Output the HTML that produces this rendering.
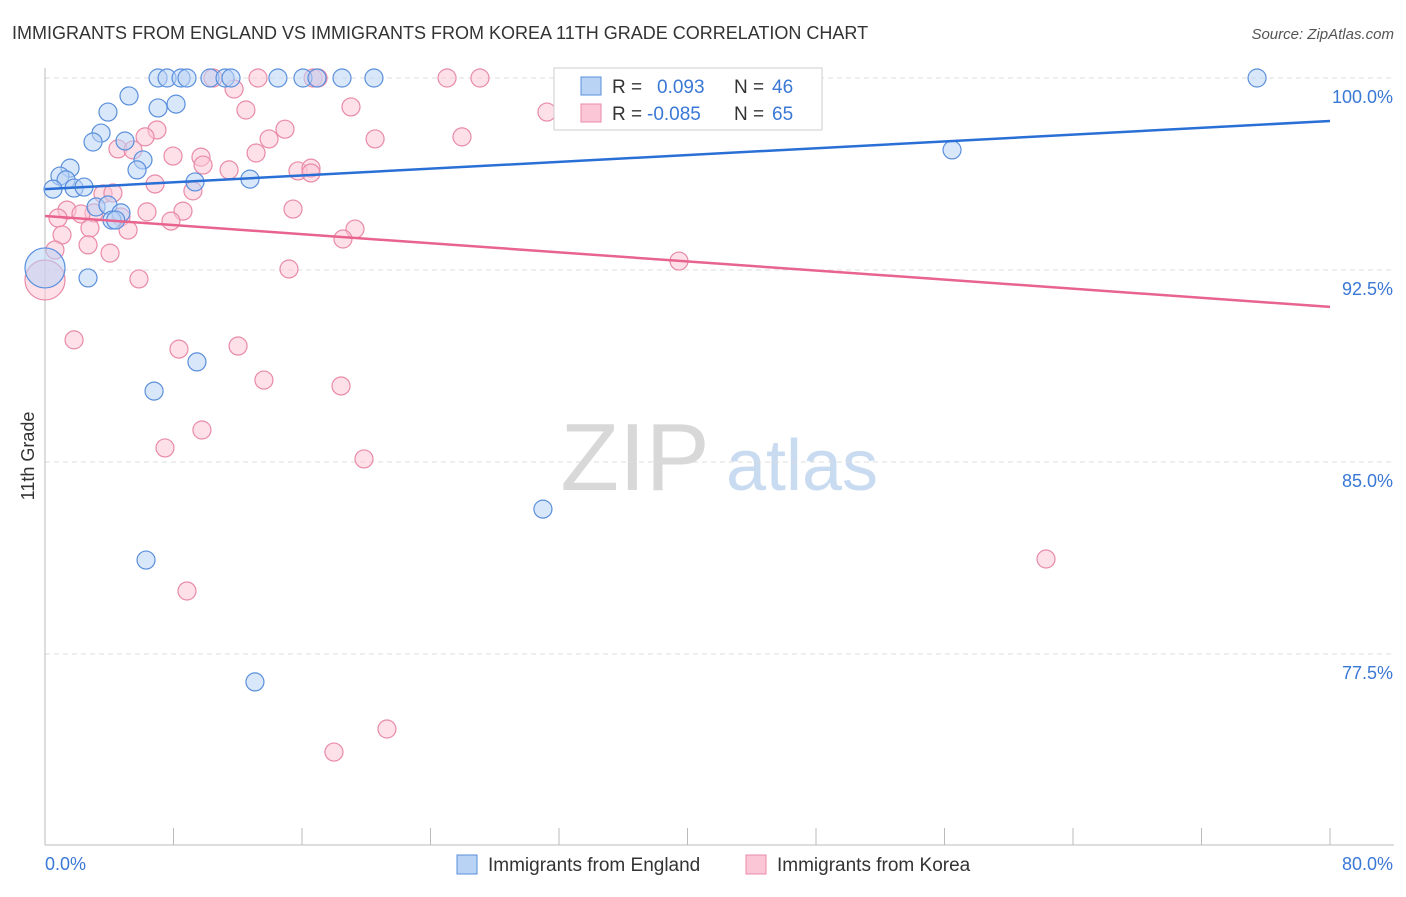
<!DOCTYPE html>
<html><head><meta charset="utf-8"><style>
body{margin:0;background:#fff;font-family:"Liberation Sans",sans-serif;}
svg text{font-family:"Liberation Sans",sans-serif;}
</style></head><body>
<svg id="chart" width="1406" height="892" viewBox="0 0 1406 892" xmlns="http://www.w3.org/2000/svg">
<text x="12" y="39" font-size="18" fill="#333">IMMIGRANTS FROM ENGLAND VS IMMIGRANTS FROM KOREA 11TH GRADE CORRELATION CHART</text>
<text x="1394" y="39" font-size="15" fill="#555" text-anchor="end" font-style="italic">Source: ZipAtlas.com</text>
<g>
<text x="635" y="490" font-size="96" fill="#d8d8d8" font-family="Liberation Serif" text-anchor="middle">ZIP</text>
<text x="802" y="490" font-size="72" fill="#c9dbf0" text-anchor="middle">atlas</text>
</g>
<g id="grid"></g>
<g id="axes"></g>
<g id="pts"></g>
<g id="trends"></g>
<text transform="translate(34,456) rotate(-90)" font-size="18" fill="#333" text-anchor="middle">11th Grade</text>
<g>
<rect x="554" y="68" width="268" height="62" fill="#fff" stroke="#ccc"/>
<rect x="581" y="77" width="20" height="18" fill="#b9d3f5" stroke="#5a8fdc"/>
<rect x="581" y="104" width="20" height="18" fill="#fbc6d5" stroke="#e98aa8"/>
<text x="612" y="93" font-size="19" fill="#333">R = </text><text x="657" y="93" font-size="19" fill="#3a78d6">0.093</text>
<text x="734" y="93" font-size="19" fill="#333">N = </text><text x="772" y="93" font-size="19" fill="#3a78d6">46</text>
<text x="612" y="120" font-size="19" fill="#333">R = </text><text x="647" y="120" font-size="19" fill="#3a78d6">-0.085</text>
<text x="734" y="120" font-size="19" fill="#333">N = </text><text x="772" y="120" font-size="19" fill="#3a78d6">65</text>
</g>
<g>
<rect x="457" y="855" width="20" height="19" fill="#b9d3f5" stroke="#5a8fdc"/>
<text x="488" y="871" font-size="19" fill="#333">Immigrants from England</text>
<rect x="746" y="855" width="20" height="19" fill="#fbc6d5" stroke="#e98aa8"/>
<text x="777" y="871" font-size="19" fill="#333">Immigrants from Korea</text>
</g>
</svg>
<script>
const blueX=[7.04,7.6,8.47,8.84,10.27,11.21,11.58,14.5,16.06,16.93,18.49,20.48,75.46,33.0,5.23,3.92,7.04,8.16,3.49,2.99,4.98,6.1,5.73,1.56,0.93,1.31,0.5,1.81,2.43,3.18,3.92,4.73,4.17,4.4,9.34,12.76,2.68,9.46,6.79,31.0,6.29,13.07,56.47,0];
const blueY=[100,100,100,100,100,100,100,100,100,100,100,100,100,100,99.3,98.67,98.83,98.98,97.85,97.5,97.54,96.8,96.41,96.48,96.17,96.02,95.66,95.7,95.74,94.96,95.04,94.73,94.45,94.45,95.94,96.05,92.19,88.91,87.77,83.16,81.17,76.41,97.19,92.58];
const pinkX=[10.46,13.26,16.69,17.0,25.03,27.08,11.77,12.51,19.05,31.25,25.96,20.55,6.97,6.23,4.54,5.48,14.94,13.95,13.14,7.97,9.71,9.84,11.46,15.75,16.56,16.56,6.85,3.61,4.23,9.21,3.05,1.37,2.24,4.73,6.35,8.59,15.44,0.81,2.8,5.17,7.84,19.3,18.55,1.06,2.68,0.62,4.05,5.85,15.19,39.47,1.81,8.34,12.02,9.77,13.63,18.43,7.47,19.86,62.32,8.84,21.29,17.99,0];
const pinkY=[100,100,100,100,100,100,99.57,98.75,98.87,98.67,97.7,97.62,97.97,97.7,97.23,97.19,98.0,97.62,97.07,96.95,96.91,96.6,96.41,96.37,96.48,96.29,95.86,95.47,95.51,95.59,94.73,94.84,94.69,94.57,94.77,94.8,94.88,94.53,94.14,94.06,94.41,94.1,93.71,93.87,93.48,93.28,93.16,92.15,92.54,92.85,89.77,89.41,89.53,86.25,88.2,87.97,85.55,85.12,81.21,79.96,74.57,73.67,92.11];
const yTicks=[100,92.5,85,77.5];
const yTickLabels=["100.0%","92.5%","85.0%","77.5%"];
const blueTrend=[95.66,98.32];
const pinkTrend=[94.61,91.06];
const xMin=0,xMax=80;
const X=v=>45+(v-xMin)/(xMax-xMin)*1285;
const Y=v=>78+(100-v)/7.5*192;
const NS="http://www.w3.org/2000/svg";
function mk(tag,attrs,parent){const e=document.createElementNS(NS,tag);for(const k in attrs)e.setAttribute(k,attrs[k]);document.getElementById(parent).appendChild(e);return e;}
yTicks.forEach((t,i)=>{
 const g=mk('line',{x1:45,x2:1394,y1:Y(t),y2:Y(t),stroke:'#ddd','stroke-dasharray':'5,4'},'grid');
 
 
 const tx=mk('text',{x:1393,y:Y(t)+25,'font-size':18,fill:'#3a78d6','text-anchor':'end'},'grid');
 tx.textContent=yTickLabels[i];
 
 
});
let a=mk('line',{x1:45,x2:45,y1:68,y2:845,stroke:'#bbb'},'axes');


a=mk('line',{x1:45,x2:1394,y1:845,y2:845,stroke:'#bbb'},'axes');


for(let v=0;v<=80;v+=8){const t=mk('line',{x1:X(v),x2:X(v),y1:828,y2:845,stroke:'#bbb'},'axes');
 
 }
let l=mk('text',{x:45,y:870,'font-size':18,fill:'#3a78d6'},'axes');l.textContent='0.0%';


l=mk('text',{x:1393,y:870,'font-size':18,fill:'#3a78d6','text-anchor':'end'},'axes');l.textContent='80.0%';


function pts(xs,ys,fill,stroke,name){xs.forEach((x,i)=>{const big=(x===0);
 const c=mk('circle',{cx:X(x),cy:Y(ys[i]),r:big?20:9,fill:fill,'fill-opacity':0.55,stroke:stroke,'stroke-width':1.2},'pts');
 
 });}
pts(pinkX,pinkY,'#fbc6d5','#e98aa8','korea-point');
pts(blueX,blueY,'#b9d3f5','#5a8fdc','england-point');
let tl=mk('line',{x1:X(0),y1:Y(blueTrend[0]),x2:X(80),y2:Y(blueTrend[1]),stroke:'#2a6fd6','stroke-width':2.5},'trends');


tl=mk('line',{x1:X(0),y1:Y(pinkTrend[0]),x2:X(80),y2:Y(pinkTrend[1]),stroke:'#e8638e','stroke-width':2.5},'trends');


</script>
</body></html>
